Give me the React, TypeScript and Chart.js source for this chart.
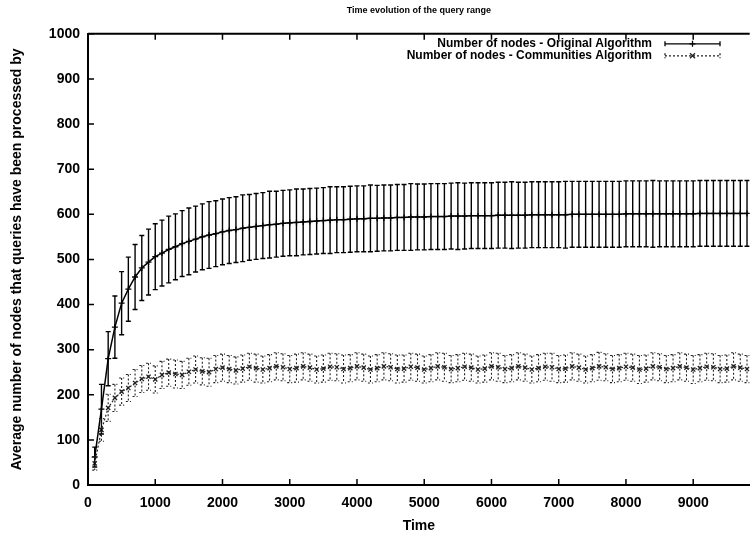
import React, { useEffect, useRef } from "react";
import { Chart, registerables } from "chart.js";

Chart.register(...registerables);

const TITLE = "Time evolution of the query range";
const X_LABEL = "Time";
const Y_LABEL = "Average number of nodes that queries have been processed by";
const SERIES_NAMES = [
  "Number of nodes - Original Algorithm",
  "Number of nodes - Communities Algorithm",
];

const X_TICKS = [0, 1000, 2000, 3000, 4000, 5000, 6000, 7000, 8000, 9000];
const Y_TICKS = [0, 100, 200, 300, 400, 500, 600, 700, 800, 900, 1000];

const TIMES = [
  100, 200, 300, 400, 500, 600, 700, 800, 900, 1000,
  1100, 1200, 1300, 1400, 1500, 1600, 1700, 1800, 1900, 2000,
  2100, 2200, 2300, 2400, 2500, 2600, 2700, 2800, 2900, 3000,
  3100, 3200, 3300, 3400, 3500, 3600, 3700, 3800, 3900, 4000,
  4100, 4200, 4300, 4400, 4500, 4600, 4700, 4800, 4900, 5000,
  5100, 5200, 5300, 5400, 5500, 5600, 5700, 5800, 5900, 6000,
  6100, 6200, 6300, 6400, 6500, 6600, 6700, 6800, 6900, 7000,
  7100, 7200, 7300, 7400, 7500, 7600, 7700, 7800, 7900, 8000,
  8100, 8200, 8300, 8400, 8500, 8600, 8700, 8800, 8900, 9000,
  9100, 9200, 9300, 9400, 9500, 9600, 9700, 9800,
];

const ORIG_MEAN = [
  62, 168, 280, 350, 403, 434, 461, 481, 494, 506,
  514, 522, 528, 535, 540, 545, 550, 554, 557, 561,
  564, 566, 569, 571, 573, 575, 577, 578, 580, 581,
  582, 583, 584, 585, 586, 587, 588, 588, 589, 590,
  590, 591, 591, 592, 592, 593, 593, 594, 594, 594,
  595, 595, 595, 596, 596, 596, 597, 597, 597, 597,
  598, 598, 598, 598, 598, 599, 599, 599, 599, 599,
  599, 600, 600, 600, 600, 600, 600, 600, 600, 601,
  601, 601, 601, 601, 601, 601, 601, 601, 601, 601,
  602, 602, 602, 602, 602, 602, 602, 602,
];

const ORIG_ERR = [
  22, 55, 60, 69, 70, 71, 72, 72, 73, 73,
  73, 74, 73, 73, 74, 73, 73, 74, 73, 73,
  73, 73, 74, 73, 73, 73, 74, 73, 73, 73,
  74, 73, 73, 73, 73, 74, 73, 73, 73, 73,
  73, 74, 73, 73, 73, 73, 73, 74, 73, 73,
  73, 73, 73, 73, 74, 73, 73, 73, 73, 73,
  73, 73, 74, 73, 73, 73, 73, 73, 73, 73,
  74, 73, 73, 73, 73, 73, 73, 73, 73, 73,
  73, 73, 73, 74, 73, 73, 73, 73, 73, 73,
  73, 73, 73, 73, 73, 73, 73, 73,
];

const COMM_MEAN = [
  48, 122, 171, 193, 207, 215, 226, 235, 240, 234,
  244, 249, 246, 244, 251, 256, 252, 250, 257, 260,
  257, 254, 258, 262, 259, 256, 259, 263, 261, 257,
  259, 263, 260, 256, 258, 262, 261, 257, 259, 263,
  260, 256, 259, 263, 261, 257, 258, 262, 260, 256,
  259, 263, 261, 257, 259, 262, 260, 256, 258, 263,
  261, 257, 259, 263, 260, 256, 259, 262, 261, 257,
  258, 263, 260, 256, 259, 263, 261, 257, 259, 262,
  260, 256, 258, 263, 261, 257, 259, 263, 260, 256,
  259, 262, 261, 257, 258, 263, 260, 257,
];

const COMM_ERR = [
  15, 25, 30, 30, 30, 30, 30, 30, 30, 30,
  30, 30, 31, 30, 30, 30, 30, 31, 30, 30,
  30, 30, 30, 30, 31, 30, 30, 30, 30, 30,
  31, 30, 30, 30, 30, 30, 30, 31, 30, 30,
  30, 30, 30, 30, 30, 31, 30, 30, 30, 30,
  30, 30, 31, 30, 30, 30, 30, 30, 30, 30,
  31, 30, 30, 30, 30, 30, 30, 30, 31, 30,
  30, 30, 30, 30, 30, 31, 30, 30, 30, 30,
  30, 31, 30, 30, 30, 30, 30, 30, 30, 31,
  30, 30, 30, 30, 30, 30, 30, 30,
];

const FONT = "'Liberation Sans', Arial, Helvetica, sans-serif";

const STYLES = [
  { color: "#000000", width: 1.5, dash: [] as number[], point: "cross" },
  { color: "#222222", width: 1.2, dash: [2, 2], point: "crossRot" },
];
const ERRS = [ORIG_ERR, COMM_ERR];
const MEANS = [ORIG_MEAN, COMM_MEAN];

const errorBarPlugin = {
  id: "errorBars",
  afterDatasetsDraw(chart: any) {
    const { ctx, chartArea, scales } = chart;
    const xs = scales.x;
    const ys = scales.y;
    ctx.save();
    ctx.beginPath();
    ctx.rect(chartArea.left, chartArea.top, chartArea.right - chartArea.left, chartArea.bottom - chartArea.top);
    ctx.clip();
    for (let d = 0; d < MEANS.length; d++) {
      const st = STYLES[d];
      ctx.strokeStyle = st.color;
      ctx.lineWidth = d === 0 ? 1.4 : 1.1;
      ctx.setLineDash(st.dash);
      for (let i = 0; i < TIMES.length; i++) {
        const x = xs.getPixelForValue(TIMES[i]);
        const y1 = ys.getPixelForValue(MEANS[d][i] + ERRS[d][i]);
        const y2 = ys.getPixelForValue(MEANS[d][i] - ERRS[d][i]);
        ctx.beginPath();
        ctx.moveTo(x, y1);
        ctx.lineTo(x, y2);
        ctx.moveTo(x - 2.5, y1);
        ctx.lineTo(x + 2.5, y1);
        ctx.moveTo(x - 2.5, y2);
        ctx.lineTo(x + 2.5, y2);
        ctx.stroke();
      }
    }
    ctx.restore();
  },
};

const framePlugin = {
  id: "frame",
  afterDraw(chart: any) {
    const { ctx, chartArea, scales } = chart;
    const xs = scales.x;
    const ys = scales.y;
    ctx.save();
    ctx.strokeStyle = "#000";
    ctx.lineWidth = 2;
    ctx.setLineDash([]);
    ctx.beginPath();
    ctx.moveTo(chartArea.left, chartArea.top);
    ctx.lineTo(chartArea.right, chartArea.top);
    ctx.stroke();
    ctx.lineWidth = 1.5;
    ctx.beginPath();
    for (const v of X_TICKS) {
      const x = xs.getPixelForValue(v);
      ctx.moveTo(x, chartArea.bottom);
      ctx.lineTo(x, chartArea.bottom - 6);
      ctx.moveTo(x, chartArea.top);
      ctx.lineTo(x, chartArea.top + 6);
    }
    for (const v of Y_TICKS) {
      const y = ys.getPixelForValue(v);
      ctx.moveTo(chartArea.left, y);
      ctx.lineTo(chartArea.left + 6, y);
    }
    ctx.stroke();

    // legend
    const rows = [chartArea.top + 10, chartArea.top + 22];
    ctx.font = `bold 12px ${FONT}`;
    ctx.fillStyle = "#000";
    ctx.textAlign = "right";
    ctx.textBaseline = "middle";
    for (let d = 0; d < SERIES_NAMES.length; d++) {
      const y = rows[d];
      ctx.fillText(SERIES_NAMES[d], 652, y);
      const st = STYLES[d];
      ctx.strokeStyle = st.color;
      ctx.lineWidth = 1.3;
      ctx.setLineDash(st.dash);
      const x1 = 665;
      const x2 = 720;
      ctx.beginPath();
      ctx.moveTo(x1, y);
      ctx.lineTo(x2, y);
      ctx.moveTo(x1, y - 2.5);
      ctx.lineTo(x1, y + 2.5);
      ctx.moveTo(x2, y - 2.5);
      ctx.lineTo(x2, y + 2.5);
      ctx.stroke();
      ctx.setLineDash([]);
      const xm = (x1 + x2) / 2;
      ctx.beginPath();
      if (d === 0) {
        ctx.moveTo(xm - 3, y);
        ctx.lineTo(xm + 3, y);
        ctx.moveTo(xm, y - 3);
        ctx.lineTo(xm, y + 3);
      } else {
        ctx.moveTo(xm - 2.5, y - 2.5);
        ctx.lineTo(xm + 2.5, y + 2.5);
        ctx.moveTo(xm - 2.5, y + 2.5);
        ctx.lineTo(xm + 2.5, y - 2.5);
      }
      ctx.stroke();
    }
    ctx.restore();
  },
};

export default function App() {
  const ref = useRef<HTMLCanvasElement>(null);
  useEffect(() => {
    if (!ref.current) return;
    const chart = new Chart(ref.current, {
      type: "line",
      data: {
        datasets: MEANS.map((m, d) => ({
          label: SERIES_NAMES[d],
          data: TIMES.map((t, i) => ({ x: t, y: m[i] })),
          borderColor: STYLES[d].color,
          borderWidth: STYLES[d].width,
          borderDash: STYLES[d].dash,
          pointStyle: STYLES[d].point,
          pointRadius: 3,
          pointBorderWidth: 1.3,
          pointBorderColor: STYLES[d].color,
          pointBackgroundColor: STYLES[d].color,
          tension: 0,
          fill: false,
        })),
      },
      options: {
        responsive: false,
        animation: false,
        events: [],
        layout: { padding: 0 },
        plugins: {
          legend: { display: false },
          tooltip: { enabled: false },
          title: {
            display: true,
            text: TITLE,
            fullSize: false,
            color: "#000",
            font: { family: FONT, size: 9, weight: "bold" },
            padding: { top: 5, bottom: 18 },
          },
        },
        scales: {
          x: {
            type: "linear",
            min: 0,
            max: 9840,
            afterBuildTicks: (s: any) => {
              s.ticks = X_TICKS.map((v) => ({ value: v }));
            },
            afterFit: (s: any) => {
              s.height = 52;
            },
            grid: { display: false, drawTicks: false },
            border: { display: true, color: "#000", width: 2 },
            ticks: {
              color: "#000",
              font: { family: FONT, size: 14, weight: "bold" },
              padding: 10,
              maxRotation: 0,
              autoSkip: false,
              callback: (v: any) => String(v),
            },
            title: {
              display: true,
              text: X_LABEL,
              color: "#000",
              font: { family: FONT, size: 14, weight: "bold" },
              padding: { top: 0, bottom: 2 },
            },
          },
          y: {
            type: "linear",
            min: 0,
            max: 1000,
            afterBuildTicks: (s: any) => {
              s.ticks = Y_TICKS.map((v) => ({ value: v }));
            },
            afterFit: (s: any) => {
              s.width = 88;
            },
            grid: { display: false, drawTicks: false },
            border: { display: true, color: "#000", width: 2 },
            ticks: {
              color: "#000",
              font: { family: FONT, size: 14, weight: "bold" },
              padding: 8,
              autoSkip: false,
              callback: (v: any) => String(v),
            },
            title: {
              display: true,
              text: Y_LABEL,
              color: "#000",
              font: { family: FONT, size: 14, weight: "bold" },
              padding: { top: 9, bottom: 0 },
            },
          },
        },
      },
      plugins: [errorBarPlugin, framePlugin],
    });
    return () => chart.destroy();
  }, []);
  return (
    <div style={{ position: "fixed", left: 0, top: 0, width: 755, height: 537, background: "#fff" }}>
      <canvas ref={ref} width={755} height={537} style={{ display: "block" }} />
    </div>
  );
}
